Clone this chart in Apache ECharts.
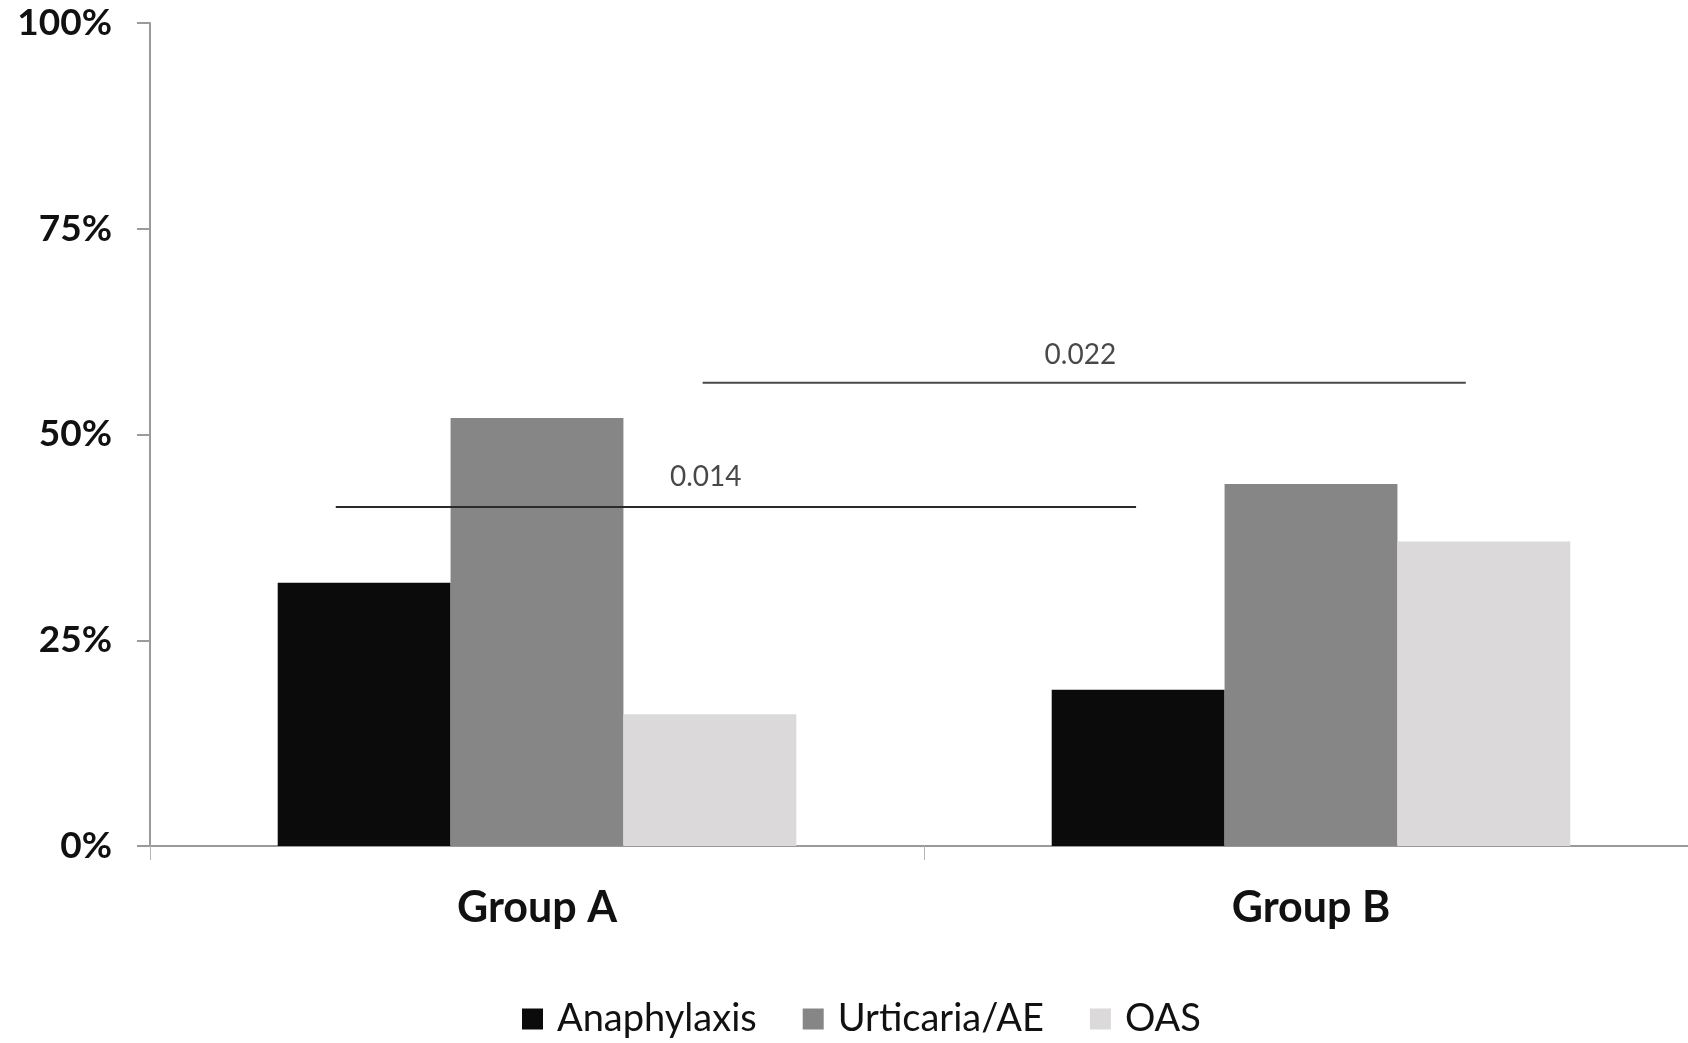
<!DOCTYPE html>
<html>
<head>
<meta charset="utf-8">
<script src="https://cdn.jsdelivr.net/npm/echarts@6/dist/echarts.min.js"></script>
<style>
  html, body { margin: 0; padding: 0; background: #fff; }
  #chart { width: 1688px; height: 1043px; }
</style>
</head>
<body>
<div id="chart"></div>
<script>
// data
var groups = ['Group A', 'Group B'];
var seriesNames = ['Anaphylaxis', 'Urticaria/AE', 'OAS'];
var anaphylaxis = [32, 19];
var urticaria = [52, 44];
var oas = [16, 37];
var yTicks = [0, 25, 50, 75, 100];

// p-value brackets: [x start, x end, y] in category units (0..2) and %
var pLabels = ['0.014', '0.022'];
var pLines = [[0.24, 1.274, 41.2], [0.714, 1.70, 56.3]];
var pTextPos = [[0.718, 44.9], [1.202, 59.7]];

var colors = ['#0b0b0b', '#868686', '#dbd9da'];
var font = 'Lato, "Open Sans", sans-serif';

var chart = echarts.init(document.getElementById('chart'));

var barSeries = [anaphylaxis, urticaria, oas].map(function (vals, i) {
    return {
        name: seriesNames[i],
        type: 'bar',
        data: vals,
        barGap: '0%',
        barCategoryGap: '33%',
        itemStyle: { color: colors[i] },
        xAxisIndex: 0,
        yAxisIndex: 0
    };
});

// bracket lines drawn on a hidden value axis laid over the categories
var lineSeries = pLines.map(function (l, i) {
    return {
        type: 'line',
        xAxisIndex: 1,
        yAxisIndex: 0,
        data: [[l[0], l[2]], [l[1], l[2]]],
        symbol: 'none',
        lineStyle: { color: i === 0 ? '#2a2a2a' : '#4a4a4a', width: 2 },
        silent: true,
        z: 5
    };
});

var textSeries = {
    type: 'scatter',
    xAxisIndex: 1,
    yAxisIndex: 0,
    symbolSize: 0,
    data: pTextPos.map(function (p, i) {
        return { value: p, label: { formatter: pLabels[i] } };
    }),
    label: {
        show: true,
        position: 'inside',
        color: '#1a1a1a',
        fontSize: 28,
        fontFamily: font
    },
    silent: true
};

chart.setOption({
    animation: false,
    backgroundColor: '#fff',
    // plot runs past the right edge like the cropped original
    grid: { left: 150, right: -10, top: 23, bottom: 197, containLabel: false, outerBoundsMode: 'none' },
    legend: {
        bottom: 0,
        left: 517,
        data: seriesNames,
        itemWidth: 21,
        itemHeight: 21,
        itemGap: 46,
        icon: 'rect',
        textStyle: { fontSize: 38, color: '#111', fontFamily: font, padding: [0, 0, 0, 9] }
    },
    xAxis: [{
        type: 'category',
        data: groups,
        axisLine: { lineStyle: { color: '#9a9a9a', width: 2 } },
        axisTick: { show: true, length: 14, lineStyle: { color: '#b5b5b5', width: 1 } },
        axisLabel: { margin: 41, fontSize: 43, fontWeight: 'bold', color: '#111', fontFamily: font }
    }, {
        type: 'value',
        min: 0,
        max: 2,
        show: false
    }],
    yAxis: {
        type: 'value',
        min: 0,
        max: 100,
        interval: 25,
        splitLine: { show: false },
        axisLine: { show: true, lineStyle: { color: '#9a9a9a', width: 2 } },
        axisTick: { show: true, length: 13, lineStyle: { color: '#9a9a9a', width: 2 } },
        axisLabel: {
            margin: 38,
            fontSize: 37,
            fontWeight: 'bold',
            color: '#111',
            fontFamily: font,
            formatter: function (v) { return yTicks.indexOf(v) >= 0 ? v + '%' : ''; }
        }
    },
    series: barSeries.concat(lineSeries, [textSeries])
});
</script>
</body>
</html>
